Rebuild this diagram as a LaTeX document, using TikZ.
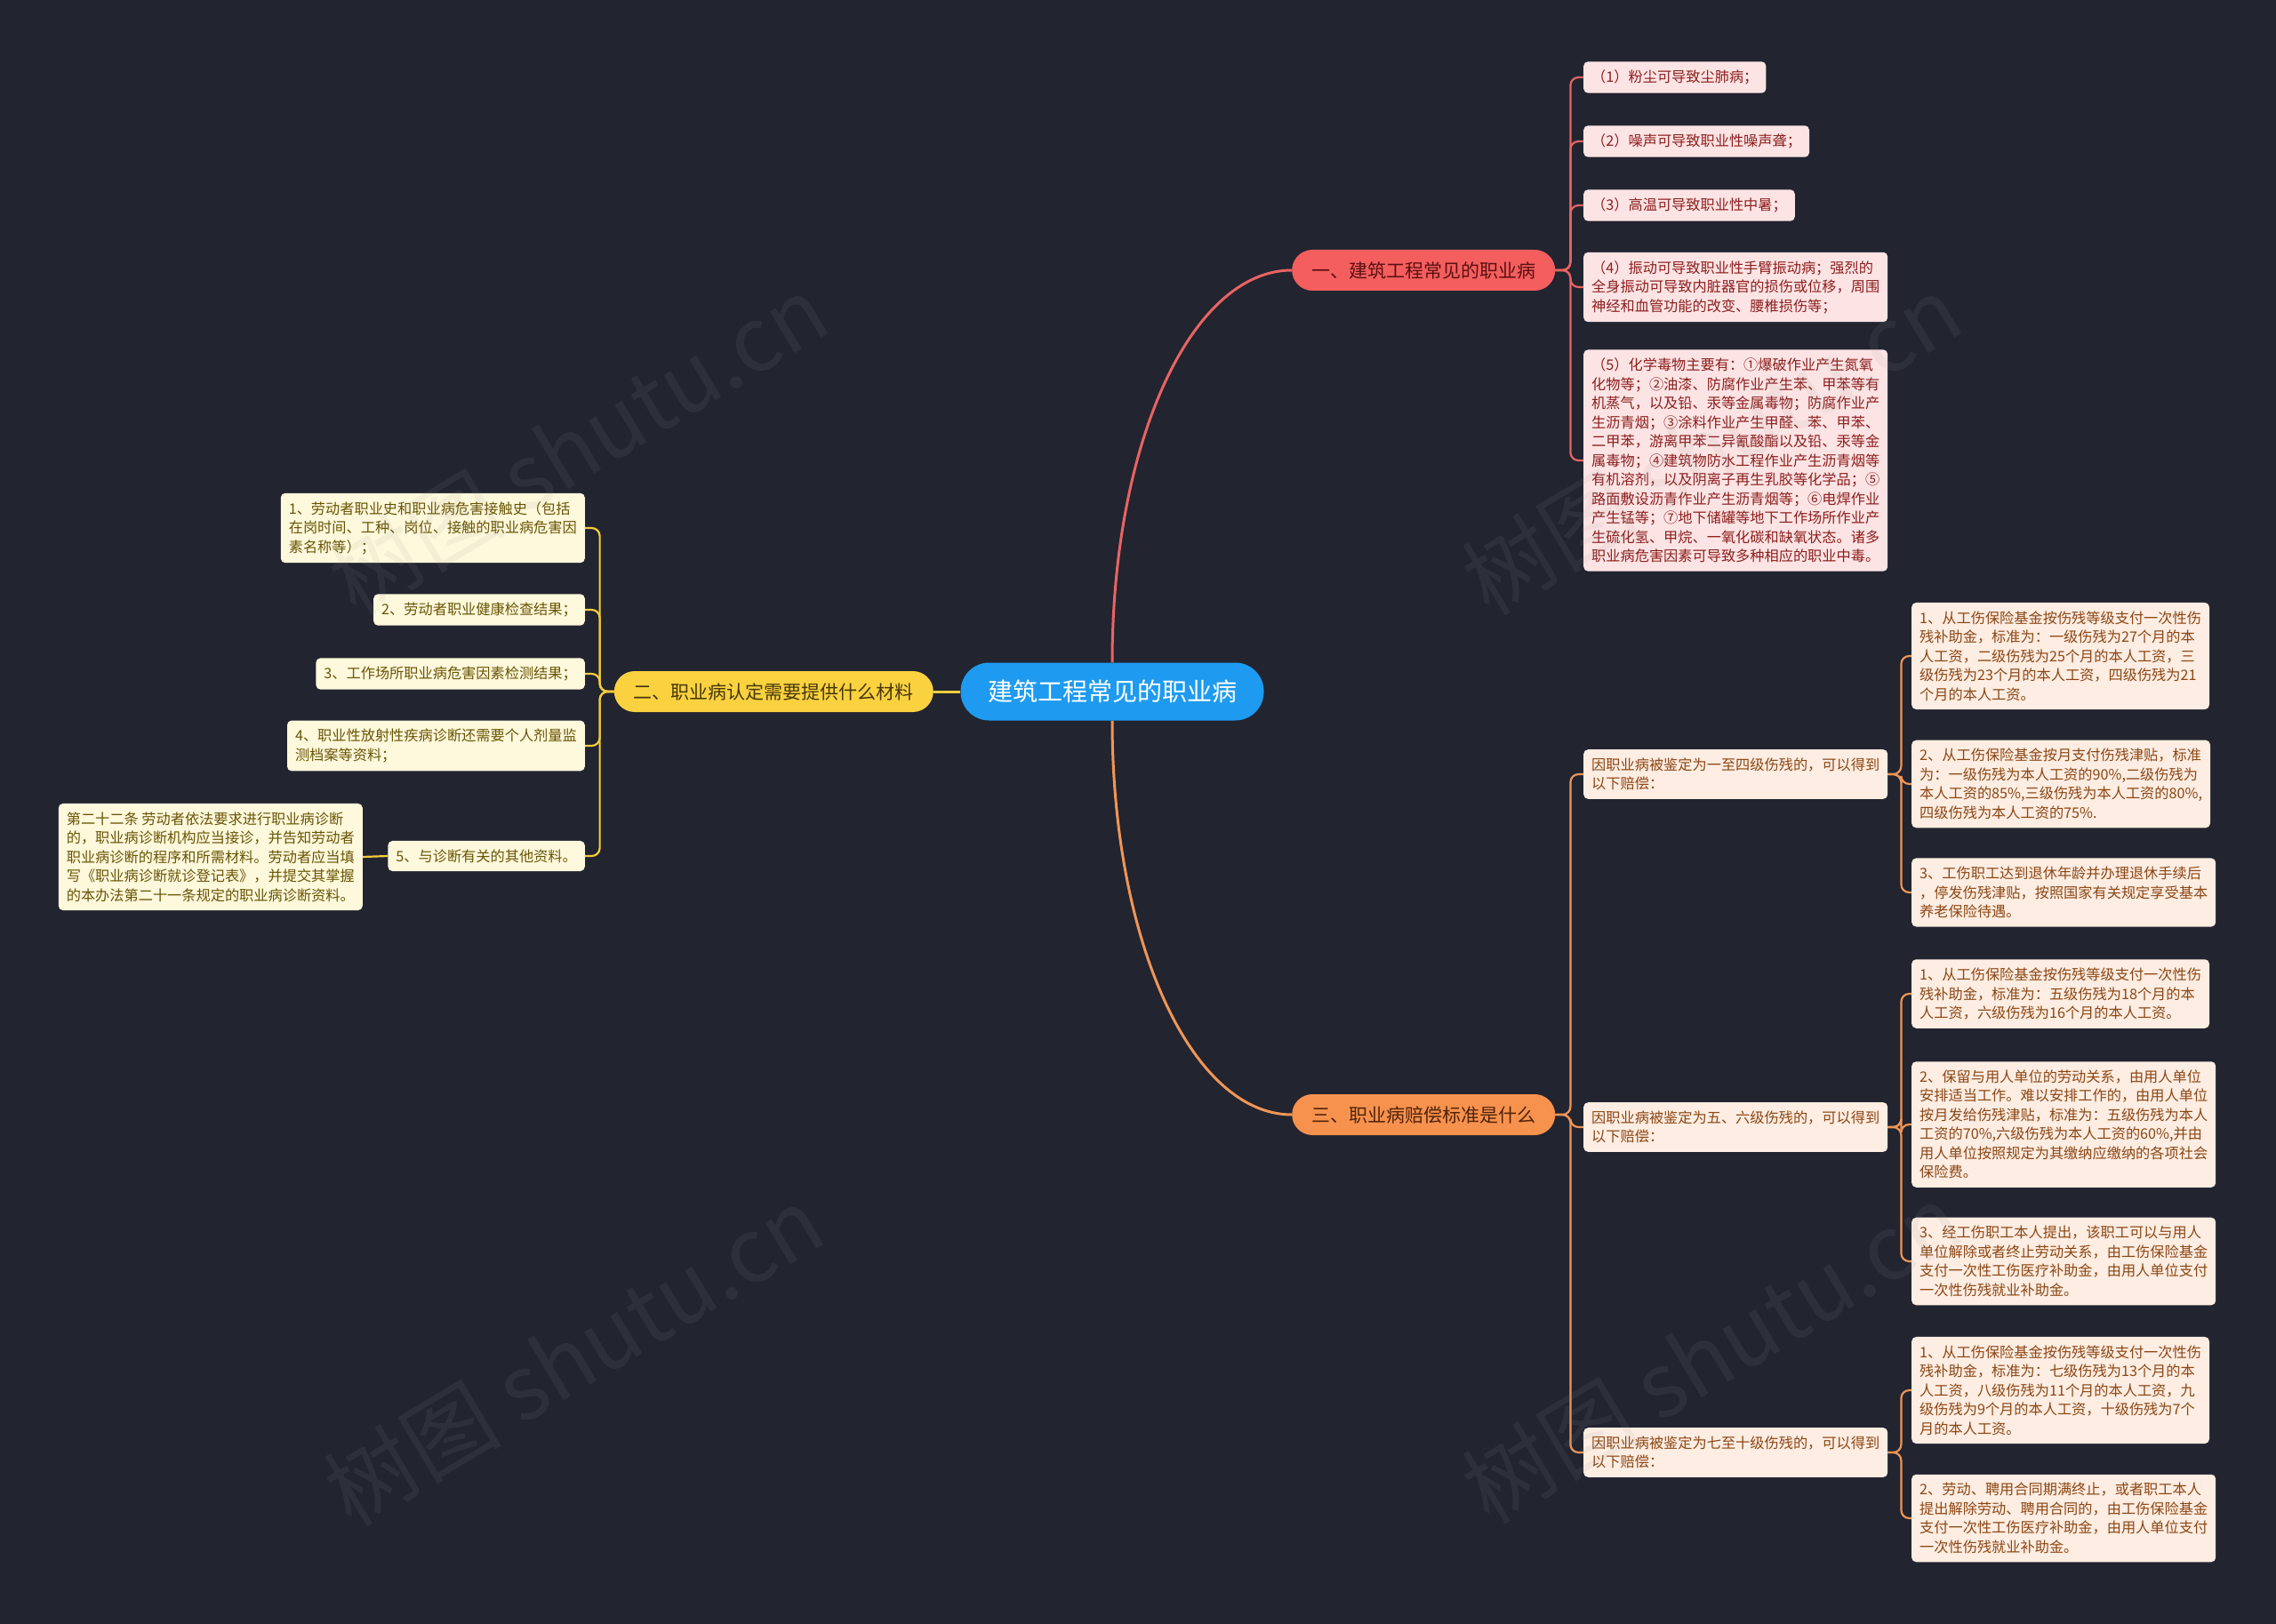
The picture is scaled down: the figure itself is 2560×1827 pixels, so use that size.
\documentclass[tikz,border=0pt]{standalone}
\usepackage{fontspec}
\setmainfont{Noto Sans CJK SC}
\usetikzlibrary{calc}
\definecolor{bgc}{RGB}{34,36,48}
\definecolor{cfill}{RGB}{30,155,240}
\definecolor{rfill}{RGB}{245,94,94}
\definecolor{rtext}{RGB}{90,16,16}
\definecolor{rlfill}{RGB}{253,228,228}
\definecolor{rltext}{RGB}{140,30,30}
\definecolor{rline}{RGB}{232,100,98}
\definecolor{ofill}{RGB}{247,146,78}
\definecolor{otext}{RGB}{80,35,10}
\definecolor{olfill}{RGB}{253,237,226}
\definecolor{oltext}{RGB}{140,70,20}
\definecolor{oline}{RGB}{240,150,85}
\definecolor{yfill}{RGB}{250,210,64}
\definecolor{ytext}{RGB}{70,55,10}
\definecolor{ylfill}{RGB}{254,248,220}
\definecolor{yltext}{RGB}{105,85,5}
\definecolor{yline}{RGB}{245,205,60}
\definecolor{wmc}{RGB}{150,150,150}
\pgfdeclarelayer{bgl}
\pgfdeclarelayer{lines}
\pgfdeclarelayer{top}
\pgfsetlayers{bgl,lines,main,top}
\tikzset{
  leafbox/.style={rounded corners=5pt, inner xsep=9pt, inner ysep=9.5pt, align=left,
    font=\fontsize{16.2}{21.5}\selectfont},
  redleaf/.style={leafbox, fill=rlfill, text=rltext},
  oraleaf/.style={leafbox, fill=olfill, text=oltext},
  yelleaf/.style={leafbox, fill=ylfill, text=yltext},
  branchbox/.style={rounded corners=23pt, minimum height=46pt, inner sep=0pt,
    font=\fontsize{21}{24}\selectfont},
  centerbox/.style={rounded corners=32pt, minimum height=65pt, minimum width=341pt, inner sep=0pt,
    fill=cfill, text=white, font=\fontsize{28}{32}\selectfont},
  thickline/.style={line width=3pt},
  thinline/.style={line width=2.2pt, rounded corners=9pt},
  wmark/.style={text=wmc, opacity=0.1, rotate=31, font=\fontsize{100}{102}\selectfont}
}
\begin{document}
\begin{tikzpicture}[x=1pt,y=-1pt]
\begin{pgfonlayer}{bgl}
\fill[bgc] (0,0) rectangle (2560,1827);
\end{pgfonlayer}
\useasboundingbox (0,0) rectangle (2560,1827);

% center and branches
\node[centerbox] (c) at (1251,778) {建筑工程常见的职业病};
\node[branchbox, fill=rfill, text=rtext, minimum width=296pt, anchor=west] (b1) at (1453,304) {一、建筑工程常见的职业病};
\node[branchbox, fill=yfill, text=ytext, minimum width=359pt, anchor=east] (b2) at (1050,778) {二、职业病认定需要提供什么材料};
\node[branchbox, fill=ofill, text=otext, minimum width=296pt, anchor=west] (b3) at (1453,1254) {三、职业病赔偿标准是什么};

% red leaves
\node[redleaf, anchor=west] (r1) at (1781,87) {（1）粉尘可导致尘肺病；};
\node[redleaf, anchor=west] (r2) at (1781,159) {（2）噪声可导致职业性噪声聋；};
\node[redleaf, anchor=west] (r3) at (1781,231) {（3）高温可导致职业性中暑；};
\node[redleaf, anchor=west] (r4) at (1781,323) {（4）振动可导致职业性手臂振动病；强烈的\\全身振动可导致内脏器官的损伤或位移，周围\\神经和血管功能的改变、腰椎损伤等；};
\node[redleaf, anchor=west] (r5) at (1781,518) {（5）化学毒物主要有：①爆破作业产生氮氧\\化物等；②油漆、防腐作业产生苯、甲苯等有\\机蒸气，以及铅、汞等金属毒物；防腐作业产\\生沥青烟；③涂料作业产生甲醛、苯、甲苯、\\二甲苯，游离甲苯二异氰酸酯以及铅、汞等金\\属毒物；④建筑物防水工程作业产生沥青烟等\\有机溶剂，以及阴离子再生乳胶等化学品；⑤\\路面敷设沥青作业产生沥青烟等；⑥电焊作业\\产生锰等；⑦地下储罐等地下工作场所作业产\\生硫化氢、甲烷、一氧化碳和缺氧状态。诸多\\职业病危害因素可导致多种相应的职业中毒。};

% yellow leaves
\node[yelleaf, anchor=east] (y1) at (658,594) {1、劳动者职业史和职业病危害接触史（包括\\在岗时间、工种、岗位、接触的职业病危害因\\素名称等）；};
\node[yelleaf, anchor=east] (y2) at (658,686) {2、劳动者职业健康检查结果；};
\node[yelleaf, anchor=east] (y3) at (658,758) {3、工作场所职业病危害因素检测结果；};
\node[yelleaf, anchor=east] (y4) at (658,839) {4、职业性放射性疾病诊断还需要个人剂量监\\测档案等资料；};
\node[yelleaf, anchor=east] (y5) at (658,963) {5、与诊断有关的其他资料。};
\node[yelleaf, anchor=east] (y6) at (408,964) {第二十二条 劳动者依法要求进行职业病诊断\\的，职业病诊断机构应当接诊，并告知劳动者\\职业病诊断的程序和所需材料。劳动者应当填\\写《职业病诊断就诊登记表》，并提交其掌握\\的本办法第二十一条规定的职业病诊断资料。};

% orange mids
\node[oraleaf, anchor=west] (ma) at (1781,871) {因职业病被鉴定为一至四级伤残的，可以得到\\以下赔偿：};
\node[oraleaf, anchor=west] (mb) at (1781,1268) {因职业病被鉴定为五、六级伤残的，可以得到\\以下赔偿：};
\node[oraleaf, anchor=west] (mc) at (1781,1634) {因职业病被鉴定为七至十级伤残的，可以得到\\以下赔偿：};

% orange leaves
\node[oraleaf, anchor=west] (a1) at (2150,738) {1、从工伤保险基金按伤残等级支付一次性伤\\残补助金，标准为：一级伤残为27个月的本\\人工资，二级伤残为25个月的本人工资，三\\级伤残为23个月的本人工资，四级伤残为21\\个月的本人工资。};
\node[oraleaf, anchor=west] (a2) at (2150,882) {2、从工伤保险基金按月支付伤残津贴，标准\\为：一级伤残为本人工资的90\%,二级伤残为\\本人工资的85\%,三级伤残为本人工资的80\%,\\四级伤残为本人工资的75\%.};
\node[oraleaf, anchor=west] (a3) at (2150,1004) {3、工伤职工达到退休年龄并办理退休手续后\\，停发伤残津贴，按照国家有关规定享受基本\\养老保险待遇。};
\node[oraleaf, anchor=west] (b1l) at (2150,1118) {1、从工伤保险基金按伤残等级支付一次性伤\\残补助金，标准为：五级伤残为18个月的本\\人工资，六级伤残为16个月的本人工资。};
\node[oraleaf, anchor=west] (b2l) at (2150,1265) {2、保留与用人单位的劳动关系，由用人单位\\安排适当工作。难以安排工作的，由用人单位\\按月发给伤残津贴，标准为：五级伤残为本人\\工资的70\%,六级伤残为本人工资的60\%,并由\\用人单位按照规定为其缴纳应缴纳的各项社会\\保险费。};
\node[oraleaf, anchor=west] (b3l) at (2150,1419) {3、经工伤职工本人提出，该职工可以与用人\\单位解除或者终止劳动关系，由工伤保险基金\\支付一次性工伤医疗补助金，由用人单位支付\\一次性伤残就业补助金。};
\node[oraleaf, anchor=west] (c1l) at (2150,1564) {1、从工伤保险基金按伤残等级支付一次性伤\\残补助金，标准为：七级伤残为13个月的本\\人工资，八级伤残为11个月的本人工资，九\\级伤残为9个月的本人工资，十级伤残为7个\\月的本人工资。};
\node[oraleaf, anchor=west] (c2l) at (2150,1708) {2、劳动、聘用合同期满终止，或者职工本人\\提出解除劳动、聘用合同的，由工伤保险基金\\支付一次性工伤医疗补助金，由用人单位支付\\一次性伤残就业补助金。};

\begin{pgfonlayer}{lines}
\draw[thickline, rline] (c.north) .. controls +(0,-250) and +(-112,0) .. (b1.west);
\draw[thickline, oline] (c.south) .. controls +(0,250) and +(-112,0) .. (b3.west);
\draw[thickline, yline] (c.west) -- (b2.east);
\foreach \n in {r1,r2,r3,r4,r5}
  \draw[thinline, rline] (b1.east) -- ++(17,0) |- (\n.west);
\foreach \n in {ma,mb,mc}
  \draw[thinline, oline] (b3.east) -- ++(17,0) |- (\n.west);
\foreach \n in {a1,a2,a3}
  \draw[thinline, oline] (ma.east) -- ++(15,0) |- (\n.west);
\foreach \n in {b1l,b2l,b3l}
  \draw[thinline, oline] (mb.east) -- ++(15,0) |- (\n.west);
\foreach \n in {c1l,c2l}
  \draw[thinline, oline] (mc.east) -- ++(15,0) |- (\n.west);
\foreach \n in {y1,y2,y3,y4,y5}
  \draw[thinline, yline] (b2.west) -- ++(-16,0) |- (\n.east);
\draw[thinline, yline] (y5.west) -- (y6.east);
\end{pgfonlayer}

\begin{pgfonlayer}{top}
\node[wmark] (w1) at (650,500) {树图 shutu.cn};
\node[wmark] (w2) at (645,1525) {树图 shutu.cn};
\node[wmark] (w3) at (1925,500) {树图 shutu.cn};
\node[wmark] (w4) at (1925,1522) {树图 shutu.cn};
\end{pgfonlayer}
\end{tikzpicture}
\end{document}
